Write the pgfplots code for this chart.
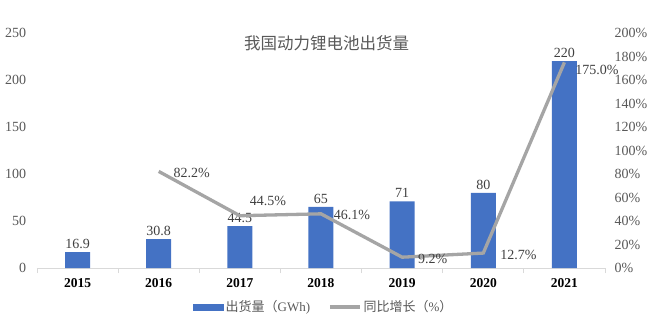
\documentclass[border=0pt]{standalone}
\usepackage{pgfplots}
\pgfplotsset{compat=1.18}
\usepackage{pgfplotstable}
\usepackage{fontspec}
\setmainfont{Liberation Serif}
\newfontfamily\cjk{Noto Sans CJK SC}
\definecolor{barblue}{HTML}{4472C4}
\definecolor{linegray}{HTML}{A5A5A5}
\definecolor{txt}{HTML}{595959}
\definecolor{lbl}{HTML}{404040}
\definecolor{axisgray}{HTML}{D9D9D9}

\pgfplotstableread{
x val
0 16.9
1 30.8
2 44.5
3 65
4 71
5 80
6 220
}\bars

\pgfplotstableread{
x val dx dy
1 82.2 10 -2
2 44.5 5 15
3 46.1 8 -1
4 9.2 11 -2
5 12.7 12 -2
6 175.0 6 -8
}\growth

\begin{document}
\begin{tikzpicture}[font=\fontsize{14}{16}\selectfont]
\path[use as bounding box] (-37pt,-56pt) rectangle (616pt,268pt);
\begin{axis}[
  scale only axis, width=568pt, height=235pt,
  /pgf/number format/assume math mode=true,
  xmin=-0.5, xmax=6.5, ymin=0, ymax=250,
  axis y line*=left, axis x line*=bottom,
  y axis line style={draw=none},
  x axis line style={axisgray, line width=0.8pt},
  ytick={0,50,...,250},
  ytick style={draw=none},
  yticklabel style={txt, font=\fontsize{14}{16}\selectfont, xshift=-3pt},
  xtick={0,...,6},
  xticklabels={2015,2016,2017,2018,2019,2020,2021},
  xticklabel style={black, font=\fontsize{13.5}{16}\selectfont\bfseries, yshift=-3pt},
  major x tick style={draw=none},
  minor xtick={-0.5,0.5,...,6.5},
  minor x tick style={axisgray, line width=0.8pt},
  minor tick length=5pt,
  tick align=outside,
  ybar, bar width=25pt,
  nodes near coords,
  nodes near coords style={lbl, font=\fontsize{14}{16}\selectfont},
]
\addplot[fill=barblue, draw=none] table[x=x, y=val]{\bars};
\node[txt, font=\cjk\fontsize{16.5}{18}\selectfont] at (rel axis cs:0.51,0.957) {我国动力锂电池出货量};
\end{axis}
\begin{axis}[
  scale only axis, width=568pt, height=235pt,
  /pgf/number format/assume math mode=true,
  xmin=-0.5, xmax=6.5, ymin=0, ymax=200,
  axis y line*=right, axis x line=none,
  y axis line style={draw=none},
  ytick={0,20,...,200},
  yticklabel={\pgfmathprintnumber{\tick}\%},
  ytick style={draw=none},
  yticklabel style={txt, font=\fontsize{14}{16}\selectfont, xshift=6pt},
  legend style={at={(0.505,-0.166)}, anchor=center, draw=none, fill=none,
    legend columns=2, font=\fontsize{13}{15}\selectfont, text=txt,
    /tikz/every even column/.append style={column sep=16pt}},
]
\addlegendimage{legend image code/.code={\fill[barblue] (0pt,-3pt) rectangle (30pt,3pt);}}
\addlegendentry{{\cjk 出货量（}GWh)}
\addplot[linegray, line width=3.3pt, mark=none,
  legend image code/.code={\draw[linegray, line width=3.3pt] (0pt,0pt) -- (30pt,0pt);},
  point meta=\thisrow{val},
  visualization depends on={\thisrow{dx} \as \dx},
  visualization depends on={\thisrow{dy} \as \dy},
  nodes near coords={\pgfmathprintnumber[fixed, fixed zerofill, precision=1]{\pgfplotspointmeta}\%},
  every node near coord/.append style={anchor=west, lbl, xshift=\dx pt, yshift=\dy pt, font=\fontsize{14}{16}\selectfont},
] table[x=x, y=val]{\growth};
\addlegendentry{{\cjk 同比增长（}\%{\cjk ）}}
\end{axis}
\end{tikzpicture}
\end{document}
